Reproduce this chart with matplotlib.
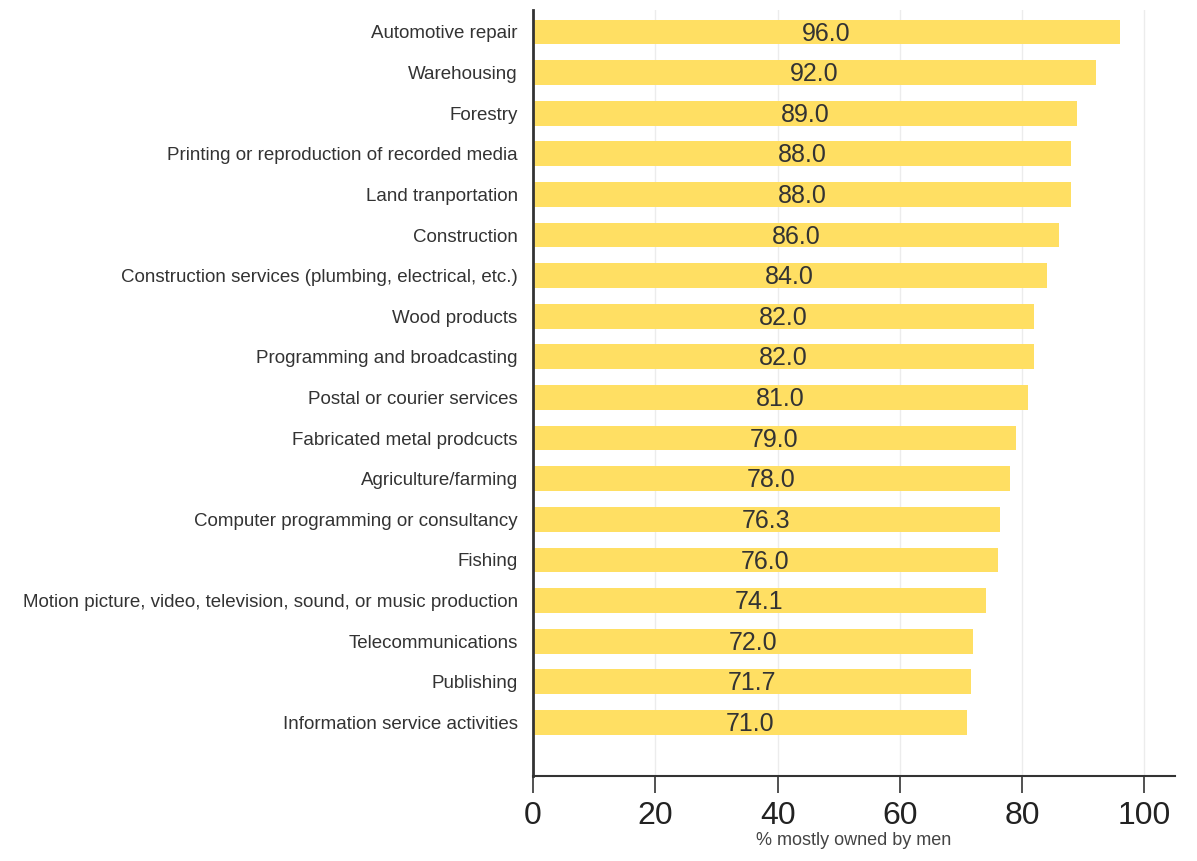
import matplotlib.pyplot as plt
import numpy as np

industries = [
    "Automotive repair",
    "Warehousing",
    "Forestry",
    "Printing or reproduction of recorded media",
    "Land tranportation",
    "Construction",
    "Construction services (plumbing, electrical, etc.)",
    "Wood products",
    "Programming and broadcasting",
    "Postal or courier services",
    "Fabricated metal prodcucts",
    "Agriculture/farming",
    "Computer programming or consultancy",
    "Fishing",
    "Motion picture, video, television, sound, or music production",
    "Telecommunications",
    "Publishing",
    "Information service activities",
]
pct_men = [96.0, 92.0, 89.0, 88.0, 88.0, 86.0, 84.0, 82.0, 82.0, 81.0,
           79.0, 78.0, 76.3, 76.0, 74.1, 72.0, 71.7, 71.0]
x_ticks = [0, 20, 40, 60, 80, 100]

plt.rcParams['font.family'] = ['Liberation Sans', 'DejaVu Sans']

W, H = 1197, 861
fig = plt.figure(figsize=(W / 100, H / 100), dpi=100)
ax = fig.add_axes([533 / W, 1 - 776 / H, (1175 - 533) / W, (776 - 10) / H])

y = np.arange(len(industries))
bars = ax.barh(y, pct_men, height=0.61, color='#FFDF63', zorder=2)

for b, v in zip(bars, pct_men):
    ax.text(v / 2, b.get_y() + b.get_height() / 2 + 0.04, f"{v:.1f}",
            ha='center', va='center', fontsize=18, color='#333333', zorder=3)

ax.set_xlim(0, 105)
ax.set_ylim(len(industries) - 1 + 1.32, -0.54)
ax.set_yticks(y)
ax.set_yticklabels(industries, fontsize=13.5, color='#333333')
ax.tick_params(axis='y', length=0, pad=11)

ax.set_xticks(x_ticks)
ax.set_xticklabels([str(t) for t in x_ticks], fontsize=23, color='#222222')
ax.tick_params(axis='x', length=12, width=1.2, color='#333333', pad=6)
ax.set_xlabel("% mostly owned by men", fontsize=13, color='#444444', labelpad=1)

ax.grid(axis='x', color='#ececec', linewidth=1, zorder=0)
for s in ['top', 'right']:
    ax.spines[s].set_visible(False)
ax.spines['left'].set_color('#333333')
ax.spines['left'].set_linewidth(2)
ax.spines['bottom'].set_color('#333333')
ax.spines['bottom'].set_linewidth(1.5)

fig.savefig('out.png', dpi=100, facecolor='white')
